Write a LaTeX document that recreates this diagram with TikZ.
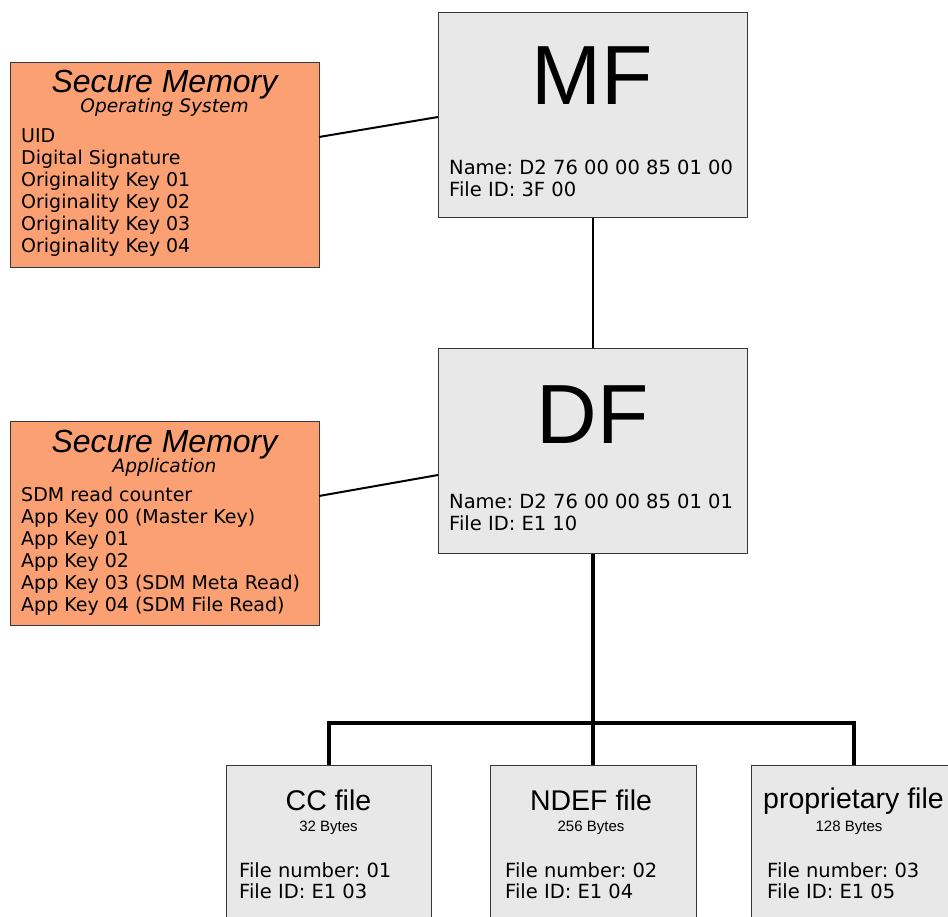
\documentclass[tikz,border=0pt]{standalone}
\usepackage{fontspec}
\frenchspacing
\newfontfamily\vfont{DejaVu Sans}
\newfontfamily\afont{Liberation Sans}
\definecolor{orfill}{RGB}{250,160,114}
\definecolor{grfill}{RGB}{232,232,232}
\definecolor{bord}{RGB}{55,55,55}
\tikzset{
  obox/.style={draw=bord, line width=1.1pt, fill=orfill, anchor=north west, inner sep=0pt},
  gbox/.style={draw=bord, line width=1.1pt, fill=grfill, anchor=north west, inner sep=0pt},
  vline/.style={inner sep=0pt, anchor=base west, font=\vfont\fontsize{19}{22}\selectfont},
  gline/.style={inner sep=0pt, anchor=base west, font=\vfont\fontsize{19.5}{22}\selectfont},
  title/.style={inner sep=0pt, anchor=base, font=\afont\itshape\fontsize{32}{36}\selectfont},
  subtitle/.style={inner sep=0pt, anchor=base, font=\vfont\itshape\fontsize{18.6}{22}\selectfont},
  big/.style={inner sep=0pt, anchor=base, font=\afont\fontsize{84}{90}\selectfont},
  ftitle/.style={inner sep=0pt, anchor=base, font=\afont\fontsize{28.5}{32}\selectfont},
  fsize/.style={inner sep=0pt, anchor=base, font=\afont\fontsize{15}{18}\selectfont},
  conn/.style={draw=black, line width=2pt},
  busline/.style={draw=black, line width=3.5pt, line join=miter},
}
\begin{document}
\begin{tikzpicture}[x=1pt,y=-1pt]
\useasboundingbox (0,0) rectangle (948,917);
\clip (0,0) rectangle (948,917);
\fill[white] (0,0) rectangle (948,917);

% boxes
\node[obox, minimum width=309pt, minimum height=205pt] (os) at (10,62) {};
\node[gbox, minimum width=309pt, minimum height=205pt] (mf) at (438,12) {};
\node[obox, minimum width=309pt, minimum height=204pt] (app) at (10,421) {};
\node[gbox, minimum width=309pt, minimum height=205pt] (df) at (438,348) {};
\node[gbox, minimum width=205pt, minimum height=170pt] (cc) at (226,765) {};
\node[gbox, minimum width=206pt, minimum height=170pt] (nd) at (489.5,765) {};
\node[gbox, minimum width=205pt, minimum height=170pt] (pf) at (751,765) {};

% connector coordinates
\coordinate (osr) at (319,137);
\coordinate (mfl) at (438,117);
\coordinate (appr) at (319,496);
\coordinate (dfl) at (438,475);
\coordinate (bus) at (591,723);

\draw[conn] (osr) -- (mfl);
\draw[conn] (appr) -- (dfl);
\draw[conn] (mf.south) -- (df.north);
\draw[busline] (df.south) -- (nd.north);
\draw[busline] (cc.north) -- (cc.north |- bus) -- (pf.north |- bus) -- (pf.north);

% Secure memory OS
\node[title] (ost) at (164.5,93) {Secure Memory};
\node[subtitle] (oss) at (164.5,113) {Operating System};
\foreach [count=\i] \t in {UID, Digital Signature, Originality Key 01, Originality Key 02, Originality Key 03, Originality Key 04}
  \node[vline] (os\i) at (21,{143+22*(\i-1)}) {\t};

% Secure memory App
\node[title] (appt) at (164.5,452) {Secure Memory};
\node[subtitle] (apps) at (164.5,472) {Application};
\foreach [count=\i] \t in {SDM read counter, App Key 00 (Master Key), App Key 01, App Key 02, App Key 03 (SDM Meta Read), App Key 04 (SDM File Read)}
  \node[vline] (app\i) at (21,{501+22*(\i-1)}) {\t};

% MF
\node[big] (mft) at (592.5,105) {MF};
\node[gline] (mfn) at (449,175) {Name: D2 76 00 00 85 01 00};
\node[gline] (mfi) at (449,197) {File ID: 3F 00};

% DF
\node[big] (dft) at (592.5,443) {DF};
\node[gline] (dfn) at (449,508) {Name: D2 76 00 00 85 01 01};
\node[gline] (dfi) at (449,530) {File ID: E1 10};

% files
\node[ftitle] (cct) at (328.5,810) {CC file};
\node[fsize] (ccs) at (328.5,831) {32 Bytes};
\node[gline] (ccn) at (239,877) {File number: 01};
\node[gline] (cci) at (239,898) {File ID: E1 03};

\node[ftitle] (ndt) at (591,810) {NDEF file};
\node[fsize] (nds) at (591,831) {256 Bytes};
\node[gline] (ndn) at (505,877) {File number: 02};
\node[gline] (ndi) at (505,898) {File ID: E1 04};

\node[ftitle] (pft) at (853.5,808) {proprietary file};
\node[fsize] (pfs) at (849,831) {128 Bytes};
\node[gline] (pfn) at (767,877) {File number: 03};
\node[gline] (pfi) at (767,898) {File ID: E1 05};
\end{tikzpicture}
\end{document}
